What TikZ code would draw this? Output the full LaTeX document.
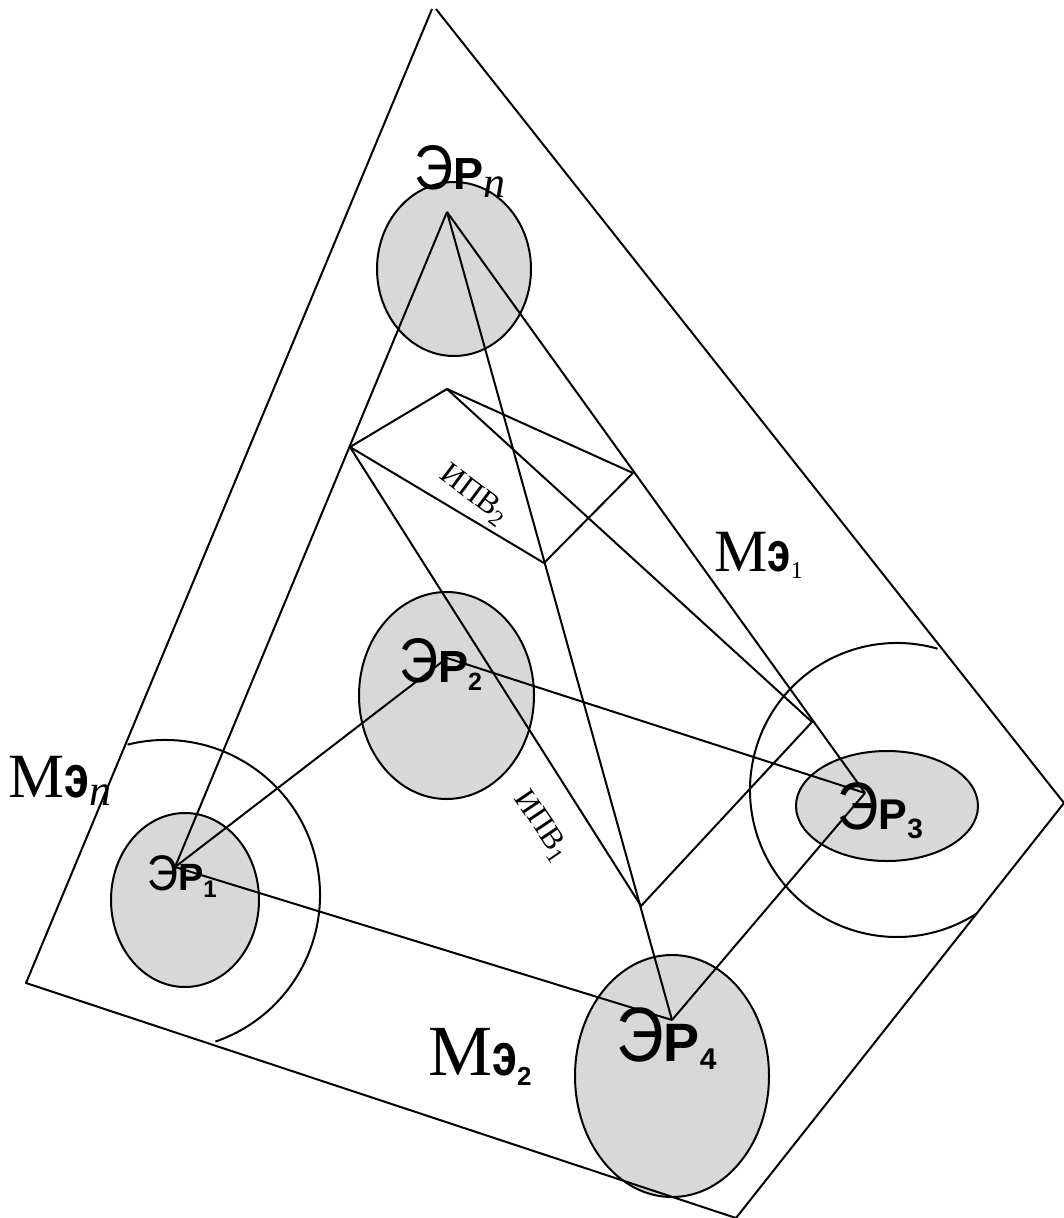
\documentclass[tikz,border=0pt]{standalone}
\usepackage{fontspec}
\setmainfont{Liberation Serif}
\newfontfamily\ersans{Liberation Sans}
\usetikzlibrary{shapes.geometric,calc}
\definecolor{regfill}{RGB}{216,216,216}
\newcommand\fsz[1]{\fontsize{#1}{#1}\selectfont}
% #1 size of E, #2 size of P, #3 subscript, #4 subscript size, #5 drop
\newcommand\ErLabel[5]{{\ersans\fsz{#1}\scalebox{0.86}[1]{Э}}{\ersans\bfseries\fsz{#2}Р}\raisebox{-#5pt}{\fsz{#4}#3}}
% #1 size of M, #2 size of e, #3 subscript, #4 subscript size, #5 drop
\newcommand\MeLabel[5]{{\fsz{#1}М}{\ersans\bfseries\fsz{#2}\scalebox{0.75}[1]{э}}\raisebox{-#5pt}{\fsz{#4}#3}}
\newcommand\IpvLabel[1]{ИПВ\raisebox{-6pt}{\fsz{23}#1}}
\begin{document}
\begin{tikzpicture}[x=1pt,y=-1pt,
  edge/.style={line width=2pt,line join=round},
  region/.style={ellipse,draw,line width=2pt,fill=regfill,inner sep=0pt},
  lab/.style={anchor=base west,inner sep=0pt},
  ipv/.style={inner sep=0pt,font=\fsz{31}}]
\useasboundingbox (0,0) rectangle (1064,1218);
\clip (0,0) rectangle (1064,1218);

% outer boundary
\coordinate (oTL) at (432,9);
\coordinate (oTR) at (436,9);
\coordinate (oR) at (1064,803);
\coordinate (oB) at (736,1218);
\coordinate (oL) at (26,983);

% centres of the big arcs
\coordinate (c1) at (165,895);
\coordinate (c3) at (897,790);

% regions
\node[region,minimum width=154pt,minimum height=174pt] (ern) at (454,269) {};
\node[region,minimum width=175pt,minimum height=207pt] (er2) at (446.5,695.5) {};
\node[region,minimum width=148pt,minimum height=174pt] (er1) at (185,900) {};
\node[region,minimum width=182pt,minimum height=110pt] (er3) at (887,806) {};
\node[region,minimum width=194pt,minimum height=242pt] (er4) at (672,1076) {};

% points inside regions
\coordinate (pn) at (447,212);
\coordinate (p1) at (175,867);
\coordinate (p2) at (447,658);
\coordinate (p3) at (865,793);
\coordinate (p4) at (672,1020);

% IPV quadrilaterals
\coordinate (qT) at (447,389);
\coordinate (qL) at (350,447);
\coordinate (qR) at (633,473);
\coordinate (qB) at (544,563);
\coordinate (rR) at (812,722);
\coordinate (rB) at (641,906);

\draw[edge] (oTL) -- (oL) -- (oB) -- (oR) -- (oTR);
\draw[edge] ($(c1)+(-104:155)$) arc[start angle=-104,end angle=71,radius=155];
\draw[edge] ($(c3)+(-74:147)$) arc[start angle=-74,end angle=-303,radius=147];

\draw[edge] (pn) -- (p1);
\draw[edge] (pn) -- (p4);
\draw[edge] (pn) -- (p3);
\draw[edge] (p1) -- (p2);
\draw[edge] (p2) -- (p3);
\draw[edge] (p1) -- (p4);
\draw[edge] (p4) -- (p3);

\draw[edge] (qL) -- (qT) -- (qR) -- (qB) -- cycle;
\draw[edge] (qT) -- (rR) -- (rB) -- (qL);

% labels
\node[lab] (tn) at (414,189) {\ErLabel{63}{45}{\itshape n}{44}{8}};
\node[lab] (t2) at (399,682) {\ErLabel{63}{45}{\ersans\bfseries 2}{25}{8}};
\node[lab] (t1) at (147,890) {\ErLabel{50}{38}{\ersans\bfseries 1}{24}{7}};
\node[lab] (t3) at (837,829) {\ErLabel{67}{43}{\ersans\bfseries 3}{28}{9}};
\node[lab] (t4) at (616,1061) {\ErLabel{77}{54}{\ersans\bfseries 4}{30}{8}};

\node[lab] (mn) at (8,797) {\MeLabel{63}{60}{\itshape n}{44}{8}};
\node[lab] (m1) at (714,571) {\MeLabel{60}{56}{1}{24}{7}};
\node[lab] (m2) at (428,1075) {\MeLabel{72}{60}{\ersans\bfseries 2}{26}{10}};

\node[ipv,rotate=-37] (ipv2) at (474,495) {\IpvLabel{2}};
\node[ipv,rotate=-56] (ipv1) at (541,826) {\IpvLabel{1}};
\end{tikzpicture}
\end{document}
